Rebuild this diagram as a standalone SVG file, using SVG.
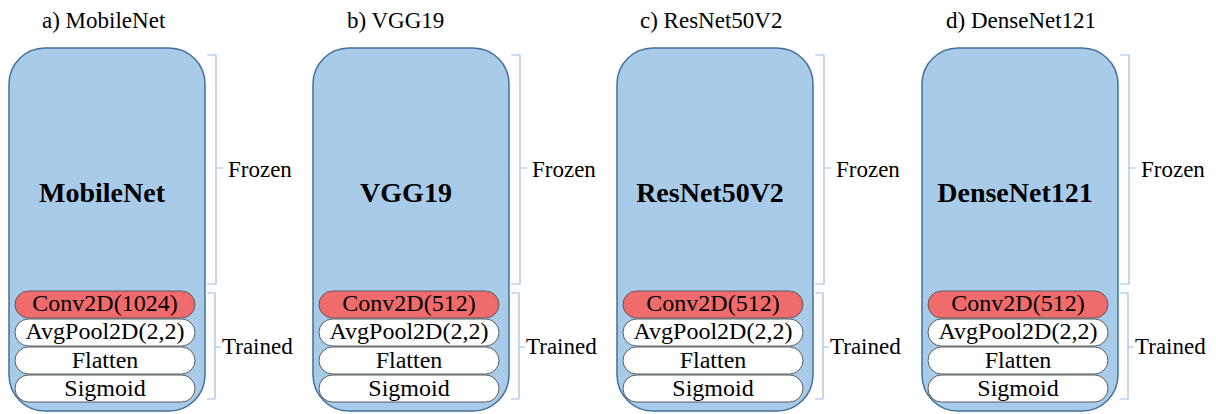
<svg xmlns="http://www.w3.org/2000/svg" width="1216" height="414" viewBox="0 0 1216 414" font-family="Liberation Serif, Times New Roman, serif">
<style>
text{font-family:'Liberation Serif','Times New Roman',Times,serif;fill:#000}
.title{font-size:23px}
.side{font-size:23px}
.name{font-size:28px;font-weight:bold;text-anchor:middle}
.lay{font-size:24px;text-anchor:middle}
.body{fill:#a9cbea;stroke:#41719c;stroke-width:1.5}
.conv{fill:#f06c6c;stroke:#5a5a5a;stroke-width:1}
.wl{fill:#fff;stroke:#5a5a5a;stroke-width:1}
.br{fill:none;stroke:#9dbfe0;stroke-width:1.2}
</style>
<g id="panel-a">
<text class="title" x="42" y="28">a) MobileNet</text>
<rect class="body" x="9" y="48" width="196" height="363" rx="36"/>
<text class="name" x="102" y="202">MobileNet</text>
<rect class="conv" x="15" y="291" width="180" height="27" rx="13.5"/>
<text class="lay" x="105" y="311">Conv2D(1024)</text>
<rect class="wl" x="15" y="319" width="180" height="27" rx="13.5"/>
<text class="lay" x="105" y="339">AvgPool2D(2,2)</text>
<rect class="wl" x="15" y="347" width="180" height="27" rx="13.5"/>
<text class="lay" x="105" y="368">Flatten</text>
<rect class="wl" x="15" y="375" width="180" height="27" rx="13.5"/>
<text class="lay" x="105" y="396">Sigmoid</text>
<text class="side" x="228" y="177">Frozen</text>
<text class="side" x="222" y="354">Trained</text>
</g>
<g id="panel-b">
<text class="title" x="347" y="28">b) VGG19</text>
<rect class="body" x="313" y="48" width="196" height="363" rx="36"/>
<text class="name" x="406" y="202">VGG19</text>
<rect class="conv" x="319" y="291" width="180" height="27" rx="13.5"/>
<text class="lay" x="409" y="311">Conv2D(512)</text>
<rect class="wl" x="319" y="319" width="180" height="27" rx="13.5"/>
<text class="lay" x="409" y="339">AvgPool2D(2,2)</text>
<rect class="wl" x="319" y="347" width="180" height="27" rx="13.5"/>
<text class="lay" x="409" y="368">Flatten</text>
<rect class="wl" x="319" y="375" width="180" height="27" rx="13.5"/>
<text class="lay" x="409" y="396">Sigmoid</text>
<text class="side" x="532" y="177">Frozen</text>
<text class="side" x="526" y="354">Trained</text>
</g>
<g id="panel-c">
<text class="title" x="640" y="28">c) ResNet50V2</text>
<rect class="body" x="617" y="48" width="196" height="363" rx="36"/>
<text class="name" x="710" y="202">ResNet50V2</text>
<rect class="conv" x="623" y="291" width="180" height="27" rx="13.5"/>
<text class="lay" x="713" y="311">Conv2D(512)</text>
<rect class="wl" x="623" y="319" width="180" height="27" rx="13.5"/>
<text class="lay" x="713" y="339">AvgPool2D(2,2)</text>
<rect class="wl" x="623" y="347" width="180" height="27" rx="13.5"/>
<text class="lay" x="713" y="368">Flatten</text>
<rect class="wl" x="623" y="375" width="180" height="27" rx="13.5"/>
<text class="lay" x="713" y="396">Sigmoid</text>
<text class="side" x="836" y="177">Frozen</text>
<text class="side" x="830" y="354">Trained</text>
</g>
<g id="panel-d">
<text class="title" x="946" y="28">d) DenseNet121</text>
<rect class="body" x="922" y="48" width="196" height="363" rx="36"/>
<text class="name" x="1015" y="202">DenseNet121</text>
<rect class="conv" x="928" y="291" width="180" height="27" rx="13.5"/>
<text class="lay" x="1018" y="311">Conv2D(512)</text>
<rect class="wl" x="928" y="319" width="180" height="27" rx="13.5"/>
<text class="lay" x="1018" y="339">AvgPool2D(2,2)</text>
<rect class="wl" x="928" y="347" width="180" height="27" rx="13.5"/>
<text class="lay" x="1018" y="368">Flatten</text>
<rect class="wl" x="928" y="375" width="180" height="27" rx="13.5"/>
<text class="lay" x="1018" y="396">Sigmoid</text>
<text class="side" x="1141" y="177">Frozen</text>
<text class="side" x="1135" y="354">Trained</text>
</g>
<g id="connectors">
<path class="br" d="M207 55H216V284H207M216 168H223"/>
<path class="br" d="M207 293H215V399H207M215 347H221"/>
<path class="br" d="M511 55H520V284H511M520 168H527"/>
<path class="br" d="M511 293H519V399H511M519 347H525"/>
<path class="br" d="M815 55H824V284H815M824 168H831"/>
<path class="br" d="M815 293H823V399H815M823 347H829"/>
<path class="br" d="M1120 55H1129V284H1120M1129 168H1136"/>
<path class="br" d="M1120 293H1128V399H1120M1128 347H1134"/>
</g>
</svg>
